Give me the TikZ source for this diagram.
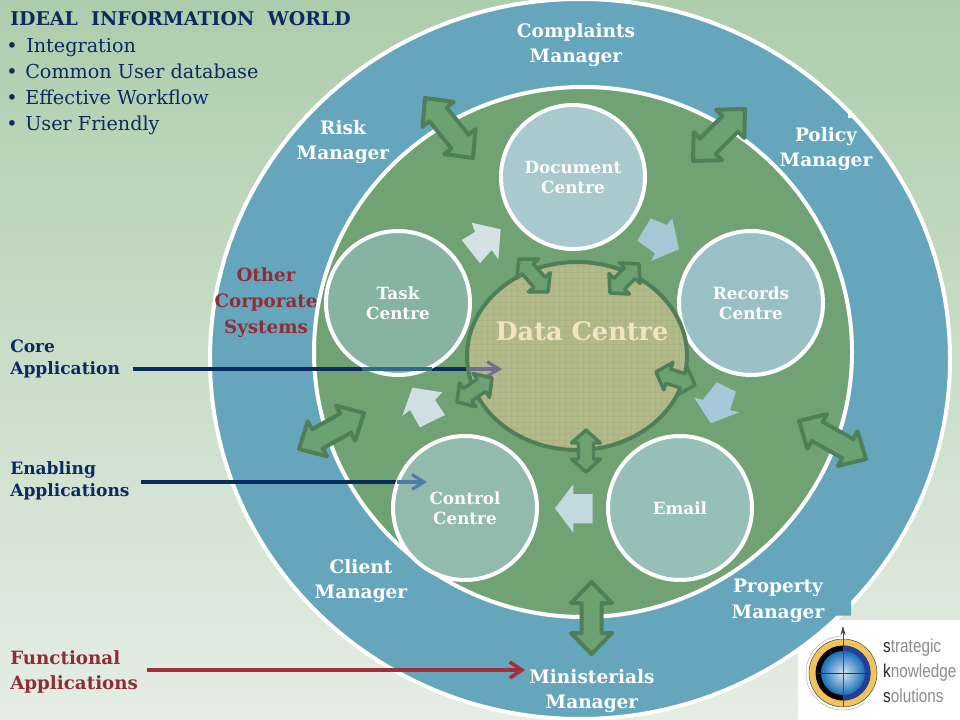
\documentclass[tikz,border=0pt]{standalone}
\usepackage{fontspec}
\setmainfont{DejaVu Serif}
\newfontfamily\logofont{Liberation Sans}
\usetikzlibrary{shapes.geometric,arrows.meta,calc}
\definecolor{teal1}{HTML}{66A6BC}
\definecolor{green1}{HTML}{70A274}
\definecolor{dkgreen}{HTML}{4F7F58}
\definecolor{fillarrow}{HTML}{6CA172}
\definecolor{navy1}{HTML}{0B2A60}
\definecolor{red1}{HTML}{8F2D37}
\definecolor{red2}{HTML}{A0303A}
\definecolor{cream}{HTML}{F0E4C2}
\tikzset{
  x=0.75pt,y=-0.75pt,
  mgr/.style={text=white,align=center,inner sep=0,font=\bfseries\fontsize{13.9}{19.1}\selectfont},
  corp/.style={text=red1,align=center,inner sep=0,font=\bfseries\fontsize{13.7}{19.5}\selectfont},
  hub/.style={circle,draw=white,line width=3pt,minimum size=108pt,inner sep=0,text=white!93!cream,align=center,font=\bfseries\fontsize{12.6}{15}\selectfont},
  side/.style={text=navy1,align=left,anchor=west,inner sep=0,font=\bfseries\fontsize{12.8}{16.5}\selectfont},
  sidered/.style={text=red1,align=left,anchor=west,inner sep=0,font=\bfseries\fontsize{13.7}{18.8}\selectfont},
  listitem/.style={text=navy1,anchor=base west,inner sep=0,font=\fontsize{14.4}{15}\selectfont},
  dblarrow/.style={draw=dkgreen,fill=fillarrow,line join=round},
  conn/.style={line width=2.7pt},
  connhead/.style={line width=2.3pt,-{Straight Barb[length=9pt,width=11pt,line width=2.3pt]}},
  logotext/.style={anchor=west,inner sep=0,text=black!45,xscale=0.82,transform shape,font=\logofont\fontsize{14}{14}\selectfont}
}
% #1,#2 first tip, #3,#4 second tip, #5 head half width, #6 shaft half width, #7 head length, #8 line width
\newcommand{\DblArrow}[8]{%
  \pgfmathsetmacro\myang{atan2(#4-#2,#3-#1)}%
  \pgfmathsetmacro\myL{veclen(#4-#2,#3-#1)/2}%
  \pgfmathsetmacro\myH{\myL-#7}%
  \begin{scope}[shift={({(#1+#3)/2},{(#2+#4)/2})},rotate=-\myang]
    \draw[dblarrow,line width=#8] (-\myL,0)--(-\myH,#5)--(-\myH,#6)--(\myH,#6)--(\myH,#5)--(\myL,0)--(\myH,-#5)--(\myH,-#6)--(-\myH,-#6)--(-\myH,-#5)--cycle;
  \end{scope}}
\newcommand{\BgShade}{\shade[top color={rgb,255:red,174;green,205;blue,172},bottom color={rgb,255:red,229;green,237;blue,228}] (0,0) rectangle (960,720);}
\begin{document}
\begin{tikzpicture}
\useasboundingbox (0,0) rectangle (960,720);
\clip (0,0) rectangle (960,720);
\BgShade

% logo panel, under the ring
\fill[white] (798,620) rectangle (960,720);

% outer ring
\node[ellipse,draw=white,line width=3pt,fill=teal1,minimum width=555pt,minimum height=540pt,inner sep=0] (outer) at (580,359) {};
\fill[teal1] (851,601) -- (851,615.5) -- (836,615.5) -- (830,611) -- (846,596) -- cycle;
\fill[white] (848,110) rectangle (852,118);

% inner disc
\node[ellipse,draw=white,line width=3pt,fill=green1,minimum width=403.5pt,minimum height=397.5pt,inner sep=0] (inner) at (583,352) {};

% connector ends
\coordinate (coreS) at (133,369);
\coordinate (coreA) at (362,369);
\coordinate (coreB) at (432,369);
\coordinate (coreC) at (469,369);
\coordinate (coreE) at (502,369);
\coordinate (enabS) at (141,482);
\coordinate (enabA) at (397,482);
\coordinate (enabE) at (427,482);
\coordinate (funcS) at (147,670);
\coordinate (funcE) at (525,670);

\draw[conn,navy1] (coreS) -- (coreC);
\draw[conn,navy1] (enabS) -- (enabA);

% hubs
\node[hub,fill={rgb,255:red,168;green,201;blue,205}] (doc) at (573,177) {Document\\Centre};
\node[hub,fill={rgb,255:red,153;green,193;blue,197}] (rec) at (751,303) {Records\\Centre};
\node[hub,fill={rgb,255:red,150;green,191;blue,184}] (email) at (680,508) {Email};
\node[hub,fill={rgb,255:red,146;green,187;blue,173}] (ctrl) at (465,508) {Control\\Centre};
\node[hub,fill={rgb,255:red,135;green,179;blue,162}] (task) at (398,303) {Task\\Centre};

\draw[conn,color={rgb,255:red,50;green,105;blue,135}] (coreA) -- (coreB);

% data centre
\node[ellipse,draw=dkgreen,line width=3pt,fill={rgb,255:red,178;green,185;blue,138},minimum width=165pt,minimum height=141pt,inner sep=0,
  path picture={
    \foreach \i in {-120,-114,...,120}{
      \draw[line width=0.4pt,color={rgb,255:red,160;green,170;blue,115},opacity=0.35] (\i,-110) -- (\i,110);
      \draw[line width=0.4pt,color={rgb,255:red,160;green,170;blue,115},opacity=0.35] (-120,\i) -- (120,\i);
    }
  }] (dc) at (577,356) {};
\node[text=cream,inner sep=0,font=\bfseries\fontsize{19.2}{20}\selectfont] (dctext) at (582,331) {Data Centre};

\draw[connhead,color={rgb,255:red,112;green,112;blue,142}] (coreC) -- (coreE);
\draw[connhead,color={rgb,255:red,80;green,125;blue,165}] (enabA) -- (enabE);
\draw[conn,red2,-{Straight Barb[length=9pt,width=12pt,line width=2.7pt]}] (funcS) -- (funcE);

% outer double arrows
\DblArrow{425}{98}{473}{158}{20}{11}{21}{3pt}
\DblArrow{745}{109}{693}{161}{20}{11}{21}{3pt}
\DblArrow{299}{449}{364}{413}{20}{11}{21}{3pt}
\DblArrow{799}{421}{866}{459}{20}{11}{21}{3pt}
\DblArrow{591.5}{582}{591.5}{654}{20.5}{10}{21}{3pt}
% inner double arrows
\DblArrow{519}{259}{548}{292}{14.5}{7.5}{13}{2.6pt}
\DblArrow{639}{264}{610}{293}{14.5}{7.5}{13}{2.6pt}
\DblArrow{695}{385}{656}{372}{14.5}{7.5}{13}{2.6pt}
\DblArrow{457}{402}{492}{378}{14.5}{7.5}{13}{2.6pt}
\DblArrow{586}{430}{586}{472}{14.5}{7.5}{13}{2.6pt}

% block arrows
\fill[color={rgb,255:red,212;green,225;blue,229}] (500.7,229.3)--(471.7,222.7)--(475,232)--(461.7,240)--(480,263.3)--(491.7,250)--(498.3,259.3)--cycle;
\fill[color={rgb,255:red,207;green,223;blue,228}] (412.3,387.7)--(442.3,392.3)--(435,400)--(445,415)--(420,427.3)--(410,410)--(402.3,416)--cycle;
\fill[color={rgb,255:red,166;green,200;blue,214}] (650.7,218.3)--(666.7,225)--(672.3,218.3)--(679,249.3)--(651,261)--(655,253.3)--(637.3,240.7)--cycle;
\fill[color={rgb,255:red,166;green,200;blue,216}] (716.7,382.3)--(736,391.7)--(730,410)--(739,412.3)--(710.7,423.3)--(694,397.3)--(702.7,400)--cycle;
\fill[color={rgb,255:red,195;green,217;blue,224}] (555,508.3)--(573.3,484.3)--(573.3,494)--(592.7,494)--(592.7,523.3)--(573.3,523.3)--(573.3,532.7)--cycle;

% ring labels
\node[mgr] (complaints) at (576,45) {Complaints\\Manager};
\node[mgr] (policy) at (826,149) {Policy\\Manager};
\node[mgr] (risk) at (343,142) {Risk\\Manager};
\node[mgr] (client) at (361,581) {Client\\Manager};
\node[mgr] (property) at (778,601) {Property\\Manager};
\node[mgr] (minist) at (592,691) {Ministerials\\Manager};
\node[corp] (other) at (266,303) {Other\\Corporate\\Systems};

% left labels
\node[side] (core) at (10,359) {Core\\Application};
\node[side] (enab) at (10,481) {Enabling\\Applications};
\node[sidered] (func) at (10,672) {Functional\\Applications};

% heading and list
\node[text=navy1,anchor=base west,inner sep=0,font=\bfseries\fontsize{14.2}{15}\selectfont] (head) at (10,26) {IDEAL\ \ INFORMATION\ \ WORLD};
\node[listitem] (b1) at (6,53) {•};
\node[listitem] (l1) at (26,53) {Integration};
\node[listitem] (b2) at (6,79) {•};
\node[listitem] (l2) at (25,79) {Common User database};
\node[listitem] (b3) at (6,105) {•};
\node[listitem] (l3) at (25,105) {Effective Workflow};
\node[listitem] (b4) at (6,131) {•};
\node[listitem] (l4) at (25,131) {User Friendly};

% logo
\draw[black!30,line width=0.4pt] (843,636) arc[start angle=-90,end angle=-305,radius=37];
\fill[color={rgb,255:red,240;green,196;blue,90}] (843,673) circle[radius=34];
\draw[black!70,line width=0.4pt] (843,673) circle[radius=34];
\fill[black] (843,673) circle[radius=27.5];
\fill[color={rgb,255:red,35;green,62;blue,155}] (843,645.5) arc[start angle=-90,end angle=90,radius=27.5] -- cycle;
\shade[inner color={rgb,255:red,215;green,232;blue,240},outer color={rgb,255:red,25;green,110;blue,185}] (843,673) circle[radius=22];
\draw[black!80,line width=0.4pt] (817,673) -- (869,673);
\draw[black!70,line width=0.6pt,-{Stealth[length=7pt,width=4pt]}] (843,707) -- (843,626);
\node[logotext] (lg1) at (883,648) {\textcolor{black!85}{s}trategic};
\node[logotext] (lg2) at (883,673) {\textcolor{black!85}{k}nowledge};
\node[logotext] (lg3) at (883,696) {\textcolor{black!85}{s}olutions};
\end{tikzpicture}
\end{document}
